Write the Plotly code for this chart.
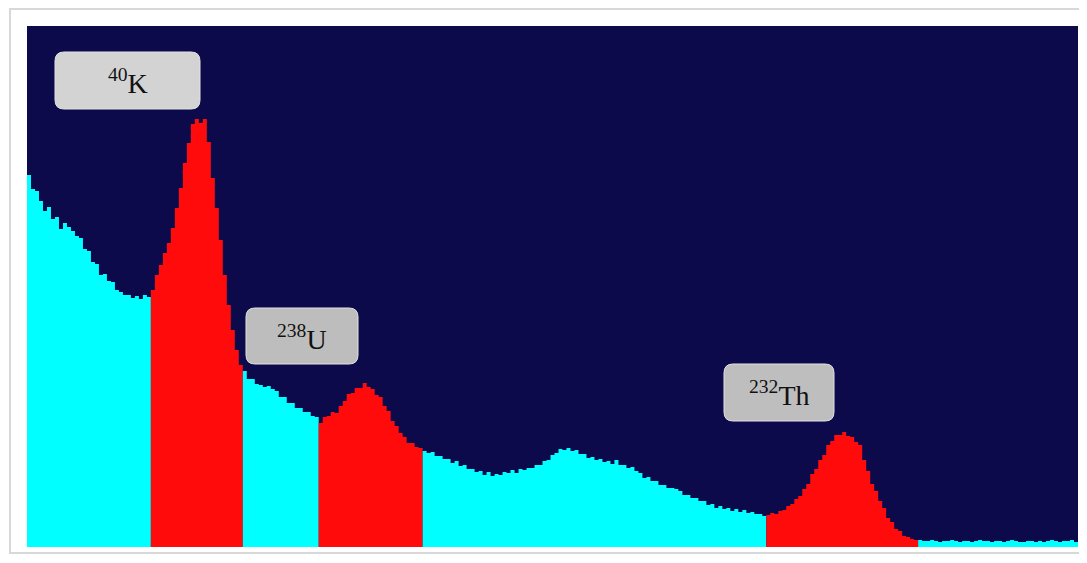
import plotly.graph_objects as go

# ---- data: gamma spectrum counts per channel ----
counts_low = [372, 358, 356, 346, 336, 340, 328, 330, 318, 324, 320, 316, 311, 309, 298,
              296, 285, 283, 272, 273, 266, 265, 257, 255, 252, 252, 249, 251, 248, 252, 250]
counts_k40 = [257, 272, 282, 294, 304, 319, 339, 359, 384, 404, 423, 428, 424, 428, 405,
              369, 339, 307, 272, 242, 217, 197, 182]
counts_mid1 = [176, 168, 168, 163, 162, 160, 161, 158, 156, 150, 150, 144, 144, 139, 139,
               135, 135, 131, 130]
counts_u238 = [124, 130, 131, 135, 134, 141, 146, 153, 154, 159, 159, 164, 160, 158, 152,
               150, 141, 136, 126, 121, 114, 110, 104, 104, 100, 99]
counts_mid2 = [96, 94, 95, 91, 91, 88, 88, 84, 86, 81, 82, 78, 78, 75, 76, 72, 75, 71, 73, 72,
               75, 74, 77, 74, 78, 77, 79, 79, 82, 82, 86, 87, 92, 94, 98, 97, 99, 96, 97, 93,
               93, 89, 90, 87, 88, 85, 86, 83, 87, 82, 82, 79, 80, 76, 74, 69, 70, 66, 66, 62,
               62, 59, 59, 58, 56, 52, 52, 49, 49, 46, 46, 42, 43, 39, 41, 38, 39, 36, 38, 35,
               37, 34, 35, 33, 33, 31]
counts_th232 = [32, 34, 33, 36, 37, 41, 43, 48, 51, 58, 63, 73, 78, 87, 92, 102, 106, 112,
                112, 115, 111, 110, 105, 102, 87, 76, 63, 56, 46, 39, 29, 25, 18, 16, 11, 10, 8, 7]
counts_high = [7, 6, 6, 7, 6, 5, 6, 6, 7, 6, 5, 6, 6, 5, 6, 7, 6, 6, 5, 6,
               6, 5, 6, 7, 6, 5, 5, 6, 6, 5, 6, 5, 6, 7, 6, 5, 6, 6, 7, 5]

segments = [("background", counts_low), ("K-40", counts_k40), ("background", counts_mid1),
            ("U-238", counts_u238), ("background", counts_mid2), ("Th-232", counts_th232),
            ("background", counts_high)]
labels = [("<sup>40</sup>K", 55, 52, 200, 109, "#d3d3d3"),
          ("<sup>238</sup>U", 246, 308, 358, 364, "#bdbdbd"),
          ("<sup>232</sup>Th", 724, 364, 834, 421, "#bebebe")]

# ---- layout constants (screen pixels; page body has an 8px margin) ----
OFF = 8
W, H = 1087 - OFF, 563 - 2 * OFF
L, R, T, B = 27, 1078, 26, 547
CYAN, RED, BG = "#00ffff", "#ff0b0b", "#0c0a4a"

n_total = sum(len(s[1]) for s in segments)
fig = go.Figure()
start = 0
for name, vals in segments:
    xs = list(range(start, start + len(vals) + 1))
    ys = list(vals) + [vals[-1]]
    color = CYAN if name == "background" else RED
    fig.add_trace(go.Scatter(x=xs, y=ys, mode="lines", line=dict(width=0, shape="hv", color=color),
                             fill="tozeroy", fillcolor=color, hoverinfo="skip", showlegend=False))
    start += len(vals)


def px2paper(px, py):
    return (px - L) / (R - L), (B - py) / (B - T)


def rounded_path(x0, y0, x1, y1, r):
    rx = r / (R - L)
    ry = r / (B - T)
    a0, b1 = px2paper(x0, y0)
    a1, b0 = px2paper(x1, y1)
    return (f"M {a0+rx},{b1} L {a1-rx},{b1} Q {a1},{b1} {a1},{b1-ry} "
            f"L {a1},{b0+ry} Q {a1},{b0} {a1-rx},{b0} L {a0+rx},{b0} "
            f"Q {a0},{b0} {a0},{b0+ry} L {a0},{b1-ry} Q {a0},{b1} {a0+rx},{b1} Z")


shapes = []
# outer frame
fx0, fy0 = px2paper(10, 9)
fx1, fy1 = px2paper(1082, 553)
shapes.append(dict(type="rect", xref="paper", yref="paper", x0=fx0, y0=fy1, x1=fx1, y1=fy0,
                   line=dict(color="#d8d8d8", width=2), layer="below"))
annotations = []
for text, x0, y0, x1, y1, fc in labels:
    shapes.append(dict(type="path", xref="paper", yref="paper", path=rounded_path(x0, y0, x1, y1, 9),
                       fillcolor=fc, line=dict(color="#e2e2e2", width=1), layer="above"))
    cx, cy = px2paper((x0 + x1) / 2, (y0 + y1) / 2 + 1)
    annotations.append(dict(text=text, xref="paper", yref="paper", x=cx, y=cy, showarrow=False,
                            xanchor="center", yanchor="middle",
                            font=dict(family="Liberation Serif", size=28, color="#111111")))

fig.update_layout(
    width=W, height=H, autosize=False,
    margin=dict(l=L - OFF, r=W - (R - OFF), t=T - OFF, b=H - (B - OFF), pad=0),
    paper_bgcolor="white", plot_bgcolor=BG,
    xaxis=dict(range=[0, n_total], visible=False, fixedrange=True),
    yaxis=dict(range=[0, B - T], visible=False, fixedrange=True),
    shapes=shapes, annotations=annotations,
)

fig.write_html("out.html")
